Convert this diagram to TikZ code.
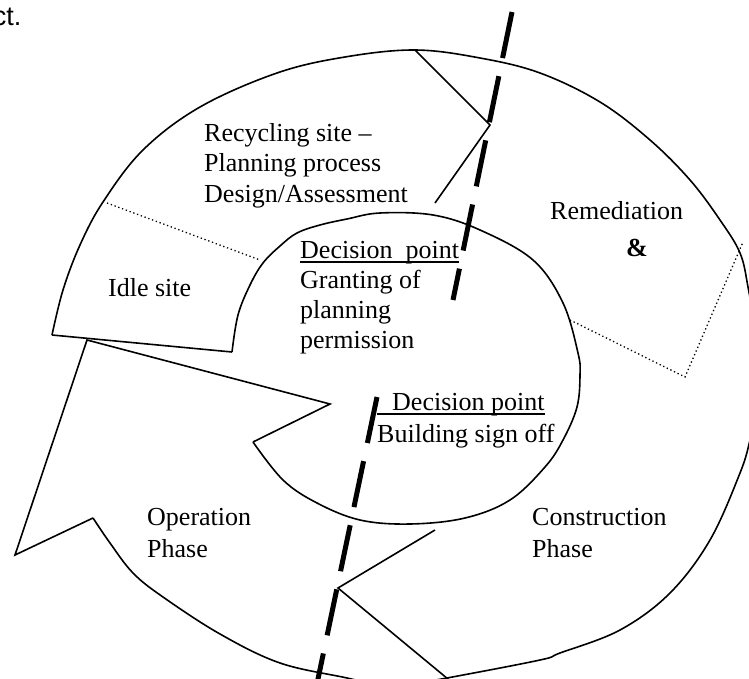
\documentclass[tikz,border=0pt]{standalone}
\usepackage{fontspec}
\setmainfont{Liberation Serif}
\newfontfamily\arialfont{Liberation Sans}
\begin{document}
\begin{tikzpicture}[x=1pt,y=-1pt,
  ln/.style={line width=1.6pt},
  dotln/.style={line width=1.3pt, dash pattern=on 1.3pt off 2.7pt},
  cutln/.style={line width=5pt, dash pattern=on 47pt off 18.5pt},
  lbl/.style={inner sep=0pt, anchor=base west, font=\fontsize{26}{30}\selectfont},
  uline/.style={line width=1.5pt}]
\useasboundingbox (0,0) rectangle (749,679);
\clip (0,0) rectangle (749,679);

% key points
\coordinate (aTailO) at (52,335);
\coordinate (aTailI) at (232,352);
\coordinate (aHeadO) at (415,50);
\coordinate (aTip)   at (490,125);
\coordinate (aHeadI) at (435,203);
\coordinate (bBarbI) at (435,530);
\coordinate (bTip)   at (338,588);
\coordinate (bBarbO) at (454,684);
\coordinate (cBaseO) at (93,518);
\coordinate (cBarbO) at (15,555);
\coordinate (cTip)   at (87,340);
\coordinate (cBarbI) at (330,404);
\coordinate (cBaseI) at (253,442);

% outer arc (recycling arrow + remediation/construction arrow)
\draw[ln] plot[smooth, tension=0.6] coordinates {
  (52,335) (63,290) (80,245) (103,202) (143,150) (200,107) (277,73)
  (345,57) (415,50) (480,58) (540,73) (600,102) (650,140) (690,180)
  (720,220) (740,253) (748,287) (755,330) (758,370) (756,410) (750,440)
  (740,473) (710,540) (670,593) (620,630) (560,653) (540,660) (447,678) (400,686)};

% inner spiral
\draw[ln] plot[smooth, tension=0.6] coordinates {
  (232,352) (238,315) (250,285) (263,263) (280,246) (297,233) (320,225)
  (347,219) (380,213) (433,215) (480,230) (533,260) (563,303) (578,353)
  (580,375) (577,407) (563,440) (545,467) (510,500) (465,518) (410,524)
  (360,520) (317,503) (283,480) (253,442)};

% operation arrow outer arc
\draw[ln] plot[smooth, tension=0.6] coordinates {
  (93,518) (110,543) (133,573) (163,597) (220,634) (280,663) (347,678) (380,686)};

% arrow outlines
\draw[ln] (aTailO) -- (aTailI);
\draw[ln] (aHeadO) -- (aTip) -- (aHeadI);
\draw[ln] (bBarbI) -- (bTip) -- (bBarbO);
\draw[ln] (cBaseO) -- (cBarbO) -- (cTip) -- (cBarbI) -- (cBaseI);

% dotted dividers
\coordinate (d1a) at (107,203);
\coordinate (d1b) at (260,260);
\coordinate (d2a) at (570,320);
\coordinate (d2b) at (685,377);
\coordinate (d2c) at (743,242);
\draw[dotln] (d1a) -- (d1b);
\draw[dotln] (d2a) -- (d2b) -- (d2c);

% texts
\node[inner sep=0pt, anchor=base east, font=\arialfont\fontsize{27}{30}\selectfont] (ct) at (21.5,26) {ct.};
\node[lbl] (rec1) at (204,142) {Recycling site –};
\node[lbl] (rec2) at (204,172) {Planning process};
\node[lbl] (rec3) at (204,202) {Design/Assessment};
\node[lbl] (rem) at (550,219) {Remediation};
\node[lbl, anchor=base] (amp) at (637,256) {\textbf{\&}};
\node[lbl] (idle) at (108,296) {Idle site};
\node[lbl] (dp1) at (300,258) {Decision\ \ point};
\node[lbl] (gr1) at (300,288) {Granting of};
\node[lbl] (gr2) at (300,318) {planning};
\node[lbl] (gr3) at (300,348) {permission};
\node[lbl] (dp2) at (392,410) {Decision point};
\node[lbl] (bso) at (377,442) {Building sign off};
\node[lbl] (op1) at (147,525) {Operation};
\node[lbl] (op2) at (147,557) {Phase};
\node[lbl] (con1) at (532,525) {Construction};
\node[lbl] (con2) at (532,557) {Phase};

% underlines
\coordinate (u1a) at (300,262);
\coordinate (u2a) at (377,414);
\draw[uline] (u1a) -- (u1a -| dp1.base east);
\draw[uline] (u2a) -- (u2a -| dp2.base east);

% thick dashed cut lines
\coordinate (cutTA) at (512,12);
\coordinate (cutTB) at (453,300);
\coordinate (cutBA) at (377,397);
\coordinate (cutBB) at (315.7,690);
\draw[cutln] (cutTA) -- (cutTB);
\draw[cutln] (cutBA) -- (cutBB);
\end{tikzpicture}
\end{document}
